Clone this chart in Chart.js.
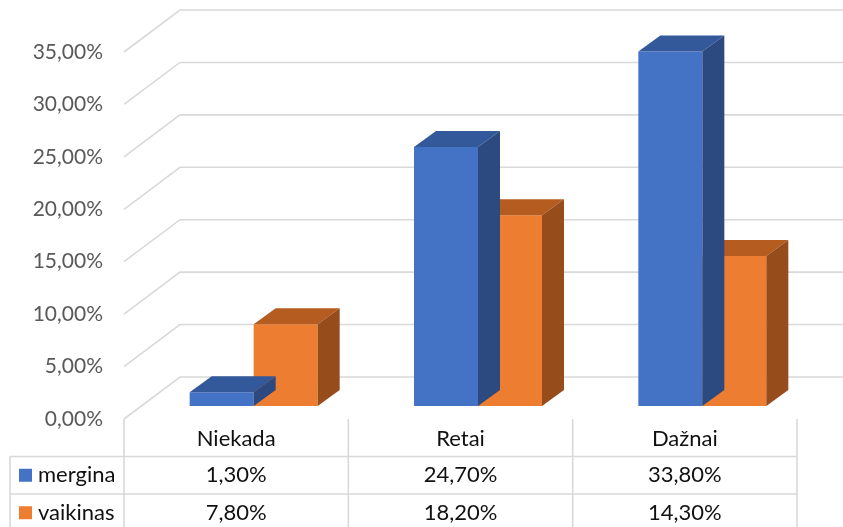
<!DOCTYPE html>
<html>
<head>
<meta charset="utf-8">
<script src="https://cdn.jsdelivr.net/npm/chart.js@4.4.0/dist/chart.umd.min.js"></script>
<style>
  html, body { margin: 0; padding: 0; background: #fff; }
</style>
</head>
<body>
<canvas id="chart" width="843" height="527"></canvas>
<script>
const categories = ['Niekada', 'Retai', 'Dažnai'];
const seriesNames = ['mergina', 'vaikinas'];
const mergina = [1.3, 24.7, 33.8];
const vaikinas = [7.8, 18.2, 14.3];
const yMax = 35;
const yStep = 5;

const frontColors = ['#4472C4', '#ED7D31'];
const topColors = ['#34599B', '#B55C21'];
const sideColors = ['#2C4A7F', '#974C1C'];

const FONT = 'Lato';
const fmt = v => v.toFixed(2).replace('.', ',') + '%';

// fake 3d: back wall depth, how far the bars sit into the floor, bar depth
const wall = { dx: 56, dy: -42 };
const shift = { dx: 17.5, dy: -13 };
const depth = { dx: 22, dy: -16 };

const threeD = {
  id: 'threeD',
  beforeDatasetsDraw(chart) {
    const { ctx, chartArea, scales: { y } } = chart;
    ctx.save();
    ctx.strokeStyle = '#D9D9D9';
    ctx.lineWidth = 1.6;
    y.ticks.forEach(t => {
      const py = y.getPixelForValue(t.value);
      ctx.beginPath();
      ctx.moveTo(chartArea.left, py);
      ctx.lineTo(chartArea.left + wall.dx, py + wall.dy);
      ctx.lineTo(chart.width, py + wall.dy);
      ctx.stroke();
    });
    ctx.restore();
    ctx.save();
    ctx.translate(shift.dx, shift.dy);
  },
  afterDatasetDraw(chart, args) {
    const { ctx } = chart;
    const i = args.index;
    chart.getDatasetMeta(i).data.forEach(bar => {
      const { x, y, base, width } = bar.getProps(['x', 'y', 'base', 'width'], true);
      const l = x - width / 2, r = x + width / 2;
      ctx.fillStyle = topColors[i];
      ctx.beginPath();
      ctx.moveTo(l, y);
      ctx.lineTo(l + depth.dx, y + depth.dy);
      ctx.lineTo(r + depth.dx, y + depth.dy);
      ctx.lineTo(r, y);
      ctx.closePath();
      ctx.fill();
      ctx.fillStyle = sideColors[i];
      ctx.beginPath();
      ctx.moveTo(r, y);
      ctx.lineTo(r + depth.dx, y + depth.dy);
      ctx.lineTo(r + depth.dx, base + depth.dy);
      ctx.lineTo(r, base);
      ctx.closePath();
      ctx.fill();
    });
  },
  afterDatasetsDraw(chart) {
    chart.ctx.restore();
  },
  afterDraw(chart) {
    // data table under the plot
    const { ctx, chartArea } = chart;
    const top = chartArea.bottom;
    const rowH = 37.5;
    const colW = (chartArea.right - chartArea.left) / categories.length;
    const tableLeft = 10;
    ctx.save();
    ctx.strokeStyle = '#D9D9D9';
    ctx.lineWidth = 1.6;
    ctx.beginPath();
    for (let r = 1; r <= 2; r++) {
      ctx.moveTo(tableLeft, top + r * rowH);
      ctx.lineTo(chartArea.right, top + r * rowH);
    }
    for (let c = 0; c <= categories.length; c++) {
      const cx = chartArea.left + c * colW;
      ctx.moveTo(cx, top);
      ctx.lineTo(cx, chart.height);
    }
    ctx.moveTo(tableLeft, top + rowH);
    ctx.lineTo(tableLeft, chart.height);
    ctx.stroke();

    const rows = [mergina, vaikinas];
    ctx.font = '22px ' + FONT;
    ctx.textBaseline = 'middle';
    rows.forEach((vals, r) => {
      const cy = top + (r + 1) * rowH + rowH / 2;
      ctx.fillStyle = frontColors[r];
      ctx.fillRect(19, cy - 6.5, 13, 13);
      ctx.fillStyle = '#111';
      ctx.textAlign = 'left';
      ctx.fillText(seriesNames[r], 38, cy);
      ctx.textAlign = 'center';
      vals.forEach((v, c) => {
        ctx.fillText(fmt(v), chartArea.left + (c + 0.5) * colW, cy);
      });
    });
    ctx.restore();
  }
};

new Chart(document.getElementById('chart'), {
  type: 'bar',
  data: {
    labels: categories,
    datasets: [
      { label: seriesNames[0], data: mergina, backgroundColor: frontColors[0], clip: false },
      { label: seriesNames[1], data: vaikinas, backgroundColor: frontColors[1], clip: false }
    ]
  },
  options: {
    responsive: false,
    animation: false,
    layout: { padding: { top: 52, right: 46, left: 0, bottom: 0 } },
    datasets: { bar: { categoryPercentage: 0.5706, barPercentage: 1 } },
    plugins: { legend: { display: false }, tooltip: { enabled: false } },
    scales: {
      x: {
        grid: { display: false, drawTicks: false },
        border: { display: false },
        ticks: { color: '#111', font: { family: FONT, size: 22 }, padding: 7, maxRotation: 0 },
        afterFit: s => { s.height = 108; }
      },
      y: {
        min: 0,
        max: yMax,
        grid: { display: false, drawTicks: false },
        border: { display: false },
        ticks: {
          stepSize: yStep,
          color: '#595959',
          font: { family: FONT, size: 21 },
          padding: 21,
          callback: v => fmt(v)
        },
        afterFit: s => { s.width = 124; }
      }
    }
  },
  plugins: [threeD]
});
</script>
</body>
</html>
